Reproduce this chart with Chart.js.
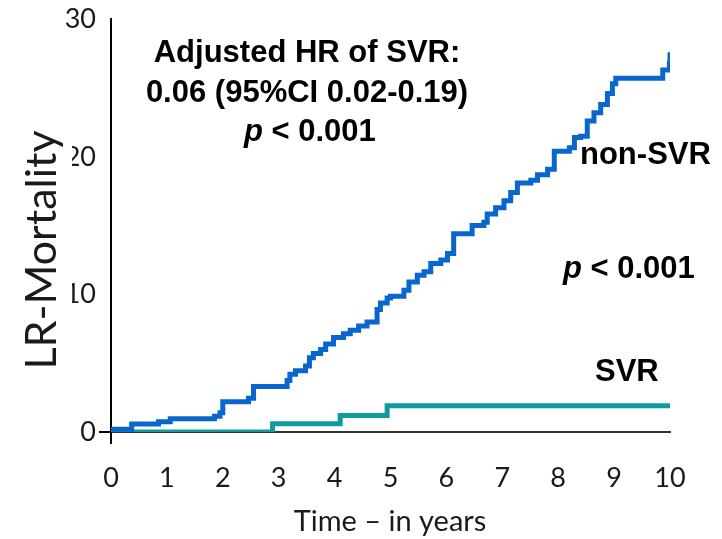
<!DOCTYPE html>
<html>
<head>
<meta charset="utf-8">
<script src="https://cdn.jsdelivr.net/npm/chart.js@4"></script>
<style>
  body { margin: 0; background: #fff; }
  canvas { display: block; }
</style>
</head>
<body>
<canvas id="kmChart" width="722" height="539"></canvas>
<script>
// curvas de mortalidad acumulada (años, %)
const nonSvrTime = [0, 0.37, 0.85, 1.06, 1.85, 1.95, 2.0, 2.46, 2.55, 3.15, 3.2, 3.3, 3.48, 3.55, 3.62, 3.75, 3.84, 3.98, 4.16, 4.28, 4.43, 4.58, 4.76, 4.82, 4.94, 5.0, 5.24, 5.33, 5.48, 5.6, 5.72, 5.9, 6.02, 6.13, 6.46, 6.67, 6.73, 6.88, 7.03, 7.15, 7.27, 7.51, 7.63, 7.81, 7.93, 8.2, 8.29, 8.4, 8.52, 8.64, 8.76, 8.88, 8.97, 9.03, 9.87, 9.99, 10.0];
const nonSvrValue = [0.2, 0.58, 0.74, 0.96, 1.15, 1.4, 2.2, 2.45, 3.3, 3.75, 4.2, 4.46, 4.8, 5.4, 5.7, 6.0, 6.4, 6.86, 7.14, 7.4, 7.7, 8.0, 8.9, 9.37, 9.73, 9.86, 10.3, 10.9, 11.4, 11.65, 12.25, 12.5, 12.97, 14.4, 15.0, 15.25, 15.85, 16.3, 16.8, 17.4, 18.1, 18.3, 18.7, 19.1, 20.4, 20.65, 21.4, 21.5, 22.6, 23.2, 23.8, 24.6, 25.3, 25.7, 26.3, 26.8, 27.6];

const svrTime = [0, 2.89, 4.1, 4.94, 10];
const svrValue = [0, 0.6, 1.2, 1.9, 1.9];

const xTicks = [0, 1, 2, 3, 4, 5, 6, 7, 8, 9, 10];
const yTicks = [0, 10, 20, 30];

const yTitle = 'LR-Mortality';
const xTitle = 'Time – in years';

function puntos(tiempos, valores) {
    return tiempos.map((t, i) => ({ x: t, y: valores[i] }));
}

// textos del gráfico (HR, p, etiquetas de curvas)
const textosPlugin = {
    id: 'textos',
    afterDraw(chart) {
        const ctx = chart.ctx;
        ctx.save();
        ctx.fillStyle = '#000';
        ctx.textBaseline = 'alphabetic';
        const bold = 'bold 31px "Liberation Sans", Arial, sans-serif';
        const boldIt = 'italic bold 31px "Liberation Sans", Arial, sans-serif';

        ctx.font = bold;
        ctx.textAlign = 'center';
        ctx.fillText('Adjusted HR of SVR:', 307, 62);
        ctx.fillText('0.06 (95%CI 0.02-0.19)', 307, 102);

        ctx.textAlign = 'left';
        // p < 0.001 (con p en cursiva)
        const pInline = (x, y) => {
            ctx.font = boldIt;
            ctx.fillText('p', x, y);
            const w = ctx.measureText('p').width;
            ctx.font = bold;
            ctx.fillText(' < 0.001', x + w, y);
        };
        pInline(244, 141);

        ctx.font = bold;
        ctx.fillText('non-SVR', 580, 164);
        pInline(563, 278);
        ctx.fillText('SVR', 595, 381);

        // título eje x
        ctx.font = '29px Lato, sans-serif';
        ctx.fillStyle = '#1a1a1a';
        ctx.textAlign = 'center';
        ctx.fillText(xTitle, 390, 531);

        // título eje y, con fondo blanco que tapa parte de las etiquetas
        ctx.translate(56, 250);
        ctx.rotate(-Math.PI / 2);
        ctx.fillStyle = '#fff';
        ctx.fillRect(-122, -36, 244, 52);
        ctx.fillStyle = '#1a1a1a';
        ctx.font = '43px Lato, sans-serif';
        ctx.fillText(yTitle, 0, 0);
        ctx.restore();
    }
};

const soloCero = c => (c.tick && c.tick.value === 0) ? '#000' : 'rgba(0,0,0,0)';

new Chart(document.getElementById('kmChart'), {
    type: 'line',
    data: {
        datasets: [{
            label: 'non-SVR',
            data: puntos(nonSvrTime, nonSvrValue),
            borderColor: '#0866CC',
            borderWidth: 5,
            pointRadius: 0,
            stepped: true,
            fill: false
        }, {
            label: 'SVR',
            data: puntos(svrTime, svrValue),
            borderColor: '#0E9C9E',
            borderWidth: 5,
            pointRadius: 0,
            stepped: true,
            fill: false
        }]
    },
    options: {
        responsive: false,
        animation: false,
        devicePixelRatio: 1,
        layout: { padding: { top: 17, right: 52, left: 0, bottom: 0 } },
        plugins: {
            legend: { display: false },
            tooltip: { enabled: false }
        },
        scales: {
            x: {
                type: 'linear',
                min: 0,
                max: 10,
                afterFit: s => { s.height = 107; },
                afterBuildTicks: s => { s.ticks = xTicks.map(v => ({ value: v })); },
                border: { color: '#333', width: 2 },
                grid: { drawOnChartArea: false, drawTicks: true, tickLength: 12, color: soloCero, lineWidth: 2 },
                ticks: { padding: 18, color: '#1a1a1a', font: { family: 'Lato', size: 27 } }
            },
            y: {
                min: 0,
                max: 30,
                afterFit: s => { s.width = 111; },
                afterBuildTicks: s => { s.ticks = yTicks.map(v => ({ value: v })); },
                border: { color: '#000', width: 2 },
                grid: { drawOnChartArea: false, drawTicks: true, tickLength: 12, color: soloCero, lineWidth: 2 },
                ticks: { padding: 3, color: '#1a1a1a', font: { family: 'Lato', size: 27 } }
            }
        }
    },
    plugins: [textosPlugin]
});
</script>
</body>
</html>
